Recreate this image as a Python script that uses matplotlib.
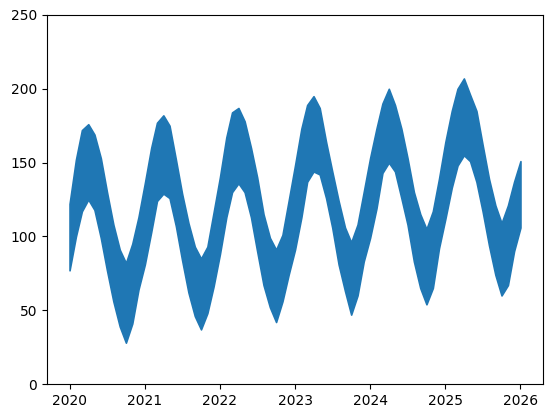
import numpy as np
import matplotlib
matplotlib.use("Agg")
import matplotlib.pyplot as plt

# monthly samples, Jan 2020 .. Jan 2026
months = np.arange("2020-01", "2026-02", dtype="datetime64[M]").astype("datetime64[D]")

# upper edge of the band
upper = [
    122, 152, 172, 176, 169, 153, 130, 108, 91, 82, 95, 113,
    136, 160, 177, 182, 175, 152, 129, 109, 93, 85, 93, 116,
    140, 167, 184, 187, 178, 160, 140, 115, 99, 91, 101, 124,
    148, 173, 189, 195, 187, 164, 144, 124, 106, 96, 108, 130,
    153, 173, 190, 200, 189, 173, 153, 130, 115, 105, 117, 139,
    164, 185, 200, 207, 196, 185, 162, 139, 121, 109, 121, 137,
    151,
]

# lower edge of the band
lower = [
    77, 100, 117, 125, 118, 99, 77, 56, 39, 28, 41, 64,
    81, 103, 124, 129, 126, 107, 84, 62, 46, 37, 48, 66,
    88, 113, 130, 136, 130, 113, 90, 67, 52, 42, 56, 74,
    91, 113, 137, 144, 142, 126, 106, 81, 63, 47, 60, 83,
    99, 119, 143, 150, 144, 126, 108, 83, 65, 54, 65, 92,
    112, 133, 148, 155, 151, 137, 117, 94, 74, 60, 67, 90,
    106,
]

fig = plt.figure(figsize=(5.52, 4.18), dpi=100)
ax = fig.add_axes([47 / 552, 34 / 418, 496 / 552, 369 / 418])

ax.fill_between(months, lower, upper, color="#1f77b4", edgecolor="#1f77b4", linewidth=1.2)
ax.set_ylim(0, 250)

fig.savefig("out.png", dpi=100)
